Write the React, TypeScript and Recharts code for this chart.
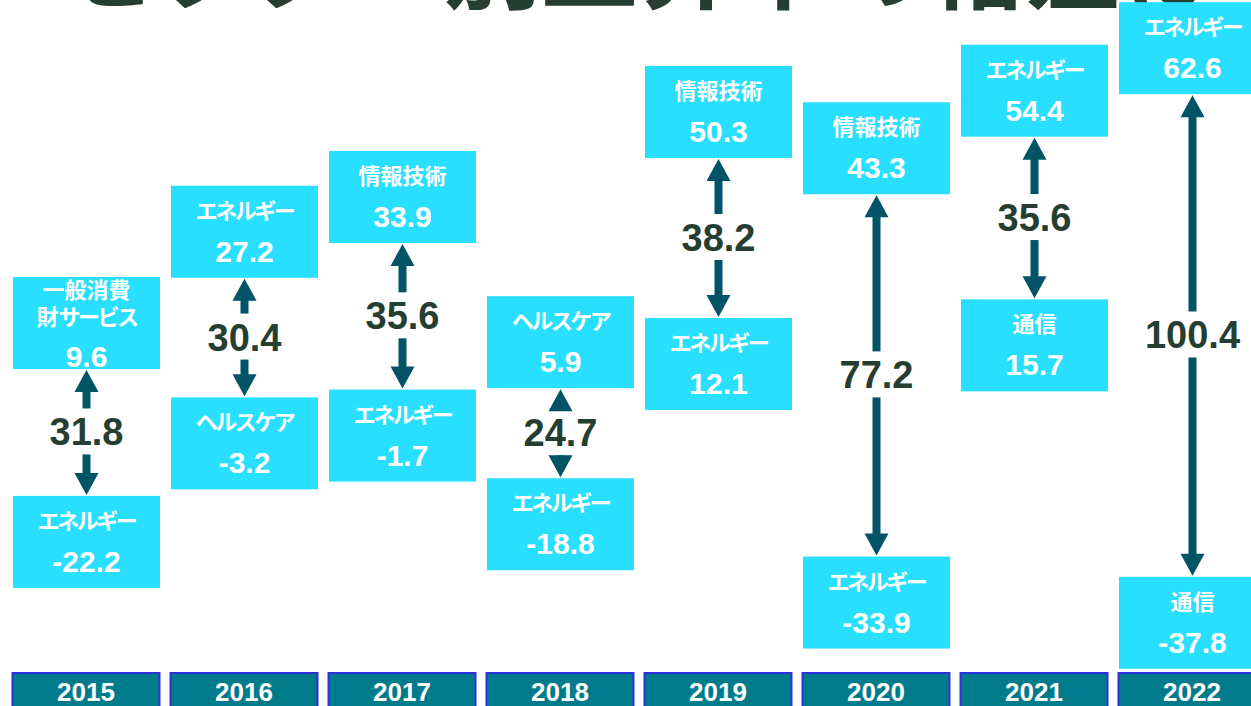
import React from 'react';
import { ComposedChart, Bar, XAxis, YAxis } from 'recharts';

// ---- data ----
const years = ['2015', '2016', '2017', '2018', '2019', '2020', '2021', '2022'];
const topSectors = ['一般消費\n財サービス', 'エネルギー', '情報技術', 'ヘルスケア', '情報技術', '情報技術', 'エネルギー', 'エネルギー'];
const topValues = [9.6, 27.2, 33.9, 5.9, 50.3, 43.3, 54.4, 62.6];
const bottomSectors = ['エネルギー', 'ヘルスケア', 'エネルギー', 'エネルギー', 'エネルギー', 'エネルギー', '通信', '通信'];
const bottomValues = [-22.2, -3.2, -1.7, -18.8, 12.1, -33.9, 15.7, -37.8];
const spreads = [31.8, 30.4, 35.6, 24.7, 38.2, 77.2, 35.6, 100.4];
const titleText = 'セクター別上昇率の格差は';

const data = years.map((year, i) => ({
  year,
  range: [bottomValues[i], topValues[i]],
  topName: topSectors[i],
  topValue: topValues[i],
  bottomName: bottomSectors[i],
  bottomValue: bottomValues[i],
  spread: spreads[i],
}));

// ---- styles ----
const BOX_H = 92;
const OFFSET = 27;
const BOX_FILL = '#29dfff';
const ARROW = '#005466';
const DARK = '#263d31';
const JP = '"Noto Sans CJK JP", "Liberation Sans", sans-serif';
const NUM = '"Liberation Sans", Arial, sans-serif';

// split a label into runs of kana (narrower in the reference font) and other characters
function runs(s: string) {
  const out: { t: string; kana: boolean }[] = [];
  for (const ch of s) {
    const kana = /[\u30A0-\u30FF]/.test(ch);
    const last = out[out.length - 1];
    if (last && last.kana === kana) last.t += ch;
    else out.push({ t: ch, kana });
  }
  return out;
}

function ValueBox({ x, y, w, name, value }: any) {
  const lines = String(name).split('\n');
  const two = lines.length > 1;
  const cx = x + w / 2;
  return (
    <g>
      <rect x={x} y={y} width={w} height={BOX_H} fill={BOX_FILL} />
      {lines.map((ln: string, i: number) => (
        <text
          key={i}
          x={cx}
          y={y + (two ? 21 + 27 * i : 33)}
          textAnchor="middle"
          fill="#fff"
          fontFamily={JP}
          fontWeight={700}
          fontSize={22}
        >
          {runs(ln).map((r, j) => (
            <tspan key={j} letterSpacing={r.kana ? -2.5 : 0}>
              {r.t}
            </tspan>
          ))}
        </text>
      ))}
      <text
        x={cx}
        y={y + (two ? 90 : 76)}
        textAnchor="middle"
        fill="#fff"
        fontFamily={NUM}
        fontWeight={700}
        fontSize={30}
      >
        {Number(value).toFixed(1)}
      </text>
    </g>
  );
}

function Arrow({ cx, from, to }: any) {
  const dir = to < from ? -1 : 1;
  const HEAD = 22;
  const HW = 12;
  const SW = 4;
  const base = to - dir * HEAD;
  const hasShaft = dir < 0 ? from > base : from < base;
  return (
    <g>
      {hasShaft && (
        <rect
          x={cx - SW}
          y={Math.min(from, base) - (dir < 0 ? 1 : 0)}
          width={SW * 2}
          height={Math.abs(from - base) + 1}
          fill={ARROW}
        />
      )}
      <polygon points={`${cx},${to} ${cx - HW},${base} ${cx + HW},${base}`} fill={ARROW} />
    </g>
  );
}

function SpreadShape(props: any) {
  const { x, y, width, height, payload } = props;
  const yHi = Math.min(y, y + height);
  const yLo = Math.max(y, y + height);
  const topY = yHi - OFFSET - BOX_H / 2;
  const botY = yLo + OFFSET - BOX_H / 2;
  const topEdge = topY + BOX_H;
  const botEdge = botY;
  const ym = (topEdge + botEdge) / 2;
  const cx = x + width / 2;
  return (
    <g>
      <ValueBox x={x} y={topY} w={width} name={payload.topName} value={payload.topValue} />
      <ValueBox x={x} y={botY} w={width} name={payload.bottomName} value={payload.bottomValue} />
      <text
        x={cx}
        y={ym + 13}
        textAnchor="middle"
        fill={DARK}
        fontFamily={NUM}
        fontWeight={700}
        fontSize={38}
      >
        {Number(payload.spread).toFixed(1)}
      </text>
      <Arrow cx={cx} from={ym - 24} to={topEdge + 1} />
      <Arrow cx={cx} from={ym + 22} to={botEdge - 1} />
    </g>
  );
}

function YearTick(props: any) {
  const { x, y, payload } = props;
  return (
    <g>
      <rect x={x - 73.5} y={y + 1} width={147} height={40} fill="#007b8c" stroke="#2f2fe0" strokeWidth={2} />
      <text x={x} y={y + 29} textAnchor="middle" fill="#fff" fontFamily={NUM} fontWeight={700} fontSize={26}>
        {payload.value}
      </text>
    </g>
  );
}

export default function App() {
  return (
    <div
      style={{
        position: 'fixed',
        left: 0,
        top: 0,
        width: 1251,
        height: 706,
        overflow: 'hidden',
        background: '#fff',
      }}
    >
      <svg width={1251} height={60} style={{ position: 'absolute', left: 0, top: 0 }}>
        <text x={60} y={1} fontFamily={JP} fontWeight={700} fontSize={97} fill={DARK}>
          {titleText}
        </text>
      </svg>
      <div style={{ position: 'absolute', left: 0, top: 0 }}>
        <ComposedChart
          width={1290}
          height={706}
          data={data}
          margin={{ top: 0, right: 19, bottom: 0, left: 7 }}
        >
          <XAxis
            dataKey="year"
            type="category"
            height={34}
            axisLine={false}
            tickLine={false}
            tickSize={0}
            tickMargin={0}
            interval={0}
            tick={<YearTick />}
          />
          <YAxis hide type="number" domain={[-52.5, 77.1]} />
          <Bar dataKey="range" barSize={147} shape={<SpreadShape />} isAnimationActive={false} />
        </ComposedChart>
      </div>
    </div>
  );
}
